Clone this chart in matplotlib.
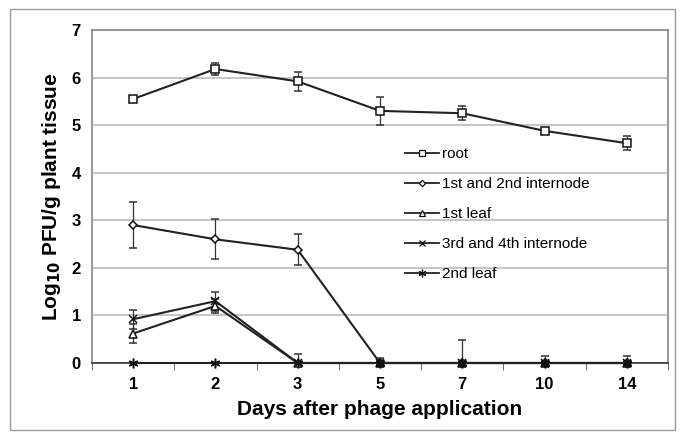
import numpy as np
import matplotlib
matplotlib.use("Agg")
import matplotlib.pyplot as plt
from matplotlib.patches import Rectangle
from matplotlib.lines import Line2D

plt.rcParams['font.family'] = ['Liberation Sans', 'DejaVu Sans']

days = ["1", "2", "3", "5", "7", "10", "14"]

root = [5.55, 6.18, 5.92, 5.30, 5.25, 4.88, 4.62]
root_err = [0.05, 0.12, 0.20, 0.30, 0.15, 0.07, 0.15]

int12 = [2.90, 2.60, 2.38, 0, 0, 0, 0]
int12_err = [0.48, 0.42, 0.33, 0.10, 0.48, 0.15, 0.15]

leaf1 = [0.62, 1.20, 0, 0, 0, 0, 0]
leaf1_err = [0.20, 0.15, 0.18, 0, 0, 0, 0]

int34 = [0.92, 1.30, 0, 0, 0, 0, 0]
int34_err = [0.20, 0.20, 0, 0, 0, 0, 0]

leaf2 = [0, 0, 0, 0, 0, 0, 0]
leaf2_err = [0, 0, 0, 0, 0, 0, 0]

fig = plt.figure(figsize=(6.85, 4.34), dpi=100)
ax = fig.add_axes([92/685, 1 - 363/434, 576/685, 333/434])
fig.patches.append(Rectangle((10/685, 0.01), 665/685, 1 - 0.01 - 9/434,
                             transform=fig.transFigure, fill=False,
                             edgecolor="#999999", lw=1))

x = np.arange(len(days))
series = [
    (root, root_err, "s", 6, "root"),
    (int12, int12_err, "D", 4, "1st and 2nd internode"),
    (leaf1, leaf1_err, "^", 6, "1st leaf"),
    (int34, int34_err, "x", 6, "3rd and 4th internode"),
    (leaf2, leaf2_err, (6, 2, 0), 7, "2nd leaf"),
]
handles = []
for vals, err, m, ms, lab in series:
    vals = np.array(vals)
    err = np.array(err)
    low = np.minimum(err, vals)
    ax.errorbar(x, vals, yerr=[low, err], color="#222222", lw=1.5,
                marker=m, ms=ms, mfc="white", mec="#111111", mew=1.1,
                ecolor="#333333", elinewidth=0.9, capsize=3, capthick=0.9,
                clip_on=False, zorder=3)
    handles.append(Line2D([], [], color="#222222", lw=1.3, marker=m, ms=ms * 0.8,
                          mfc="white", mec="#111111", mew=0.9, label=lab))

# zero-level points drawn filled where series overlap at 0
ax.plot(x[3:], np.zeros(4), "s", color="#111111", ms=5, zorder=4, clip_on=False)

ax.set_xlim(-0.5, len(days) - 0.5)
ax.set_ylim(0, 7)
ax.set_yticks(range(8))
ax.set_xticks(x)
ax.set_xticklabels(days)
ax.set_xticks(np.arange(-0.5, len(days)), minor=True)
ax.tick_params(axis="x", which="major", length=0, labelsize=12, pad=10)
ax.tick_params(axis="x", which="minor", length=5, color="#555555", direction="out")
ax.tick_params(axis="y", length=0, labelsize=12, pad=8)
for t in ax.get_xticklabels() + ax.get_yticklabels():
    t.set_fontweight("bold")
ax.yaxis.grid(True, color="#bbbbbb", lw=1.2)
ax.set_axisbelow(True)
for s in ax.spines.values():
    s.set_color("#888888")
    s.set_linewidth(1.2)
ax.spines["bottom"].set_color("#333333")

ax.set_xlabel("Days after phage application", fontsize=15, fontweight="bold", labelpad=6)
ax.set_ylabel("Log$_{\\mathbf{10}}$ PFU/g plant tissue", fontsize=15, fontweight="bold", labelpad=6)

ax.legend(handles=handles, loc="upper left", bbox_to_anchor=(0.52, 0.69),
          frameon=False, fontsize=11, handlelength=2.2, labelspacing=1.05,
          handletextpad=0.2)

plt.savefig("out.png", dpi=100)
